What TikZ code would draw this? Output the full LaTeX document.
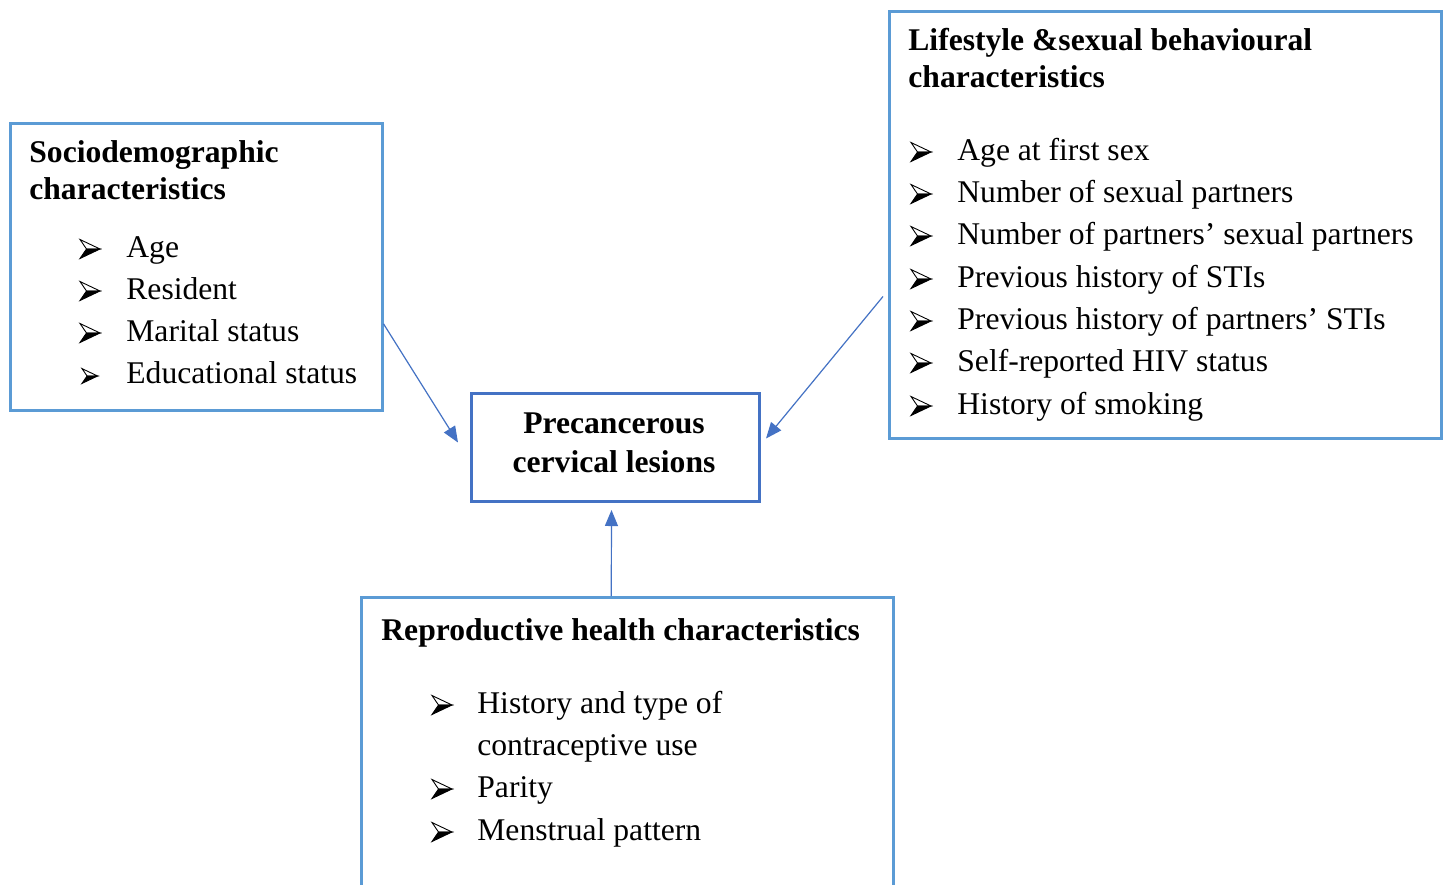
\documentclass[tikz,border=0pt]{standalone}
\usepackage{fontspec}
\setmainfont{Liberation Serif}
\usetikzlibrary{arrows.meta,calc}
\definecolor{boxblue}{HTML}{5B9BD5}
\definecolor{darkblue}{HTML}{4472C4}
\begin{document}
\begin{tikzpicture}[x=0.5pt,y=-0.5pt,
  box/.style={draw=boxblue,line width=1.25pt,anchor=north west,inner sep=0pt},
  mainbox/.style={draw=darkblue,line width=1.5pt,anchor=north west,inner sep=0pt},
  txt/.style={anchor=base west,inner sep=0pt,font=\fontsize{15.8pt}{21pt}\selectfont},
  ttl/.style={txt,font=\fontsize{15.8pt}{21pt}\selectfont\bfseries},
  conn/.style={draw=darkblue,line width=0.6pt,-{Triangle[length=8pt,width=6.5pt]}},
  arrowbullet/.pic={
    \filldraw[fill=white,draw=black,line width=0.45pt,line join=miter] (0,-9.5) -- (20,0) -- (6.5,0) -- cycle;
    \filldraw[fill=black,draw=black,line width=0.45pt,line join=miter] (6.5,0) -- (20,0) -- (0,9.5) -- cycle;
  }]
\clip (0,0) rectangle (1445,884);
\fill[white] (0,0) rectangle (1445,884);
% boxes
\node[box,minimum width=186pt,minimum height=143.5pt] (socio) at (9,122) {};
\node[box,minimum width=276pt,minimum height=213.5pt] (life) at (888,10) {};
\node[mainbox,minimum width=144pt,minimum height=54pt] (pre) at (470,392) {};
\node[box,minimum width=266pt,minimum height=200pt] (repro) at (360,596) {};
% sociodemographic
\node[ttl] (s0) at (29,162) {Sociodemographic};
\node[ttl] (s00) at (29,199) {characteristics};
\foreach \y/\t [count=\i] in {257/Age,299/Resident,341/Marital status}{
  \pic at (80,\y-8) {arrowbullet};
  \node[txt] (st\i) at (126,\y) {\t};
}
\pic[scale=0.78] at (82,383-7) {arrowbullet};
\node[txt] (st4) at (126,383) {Educational status};
% lifestyle
\node[ttl] (l0) at (908,50) {Lifestyle \&sexual behavioural};
\node[ttl] (l00) at (908,87) {characteristics};
\foreach \y/\t [count=\i] in {160/Age at first sex,202/Number of sexual partners,244/Number of partners’ sexual partners,287/Previous history of STIs,329/Previous history of partners’ STIs,371/Self-reported HIV status,414/History of smoking}{
  \pic at (911,\y-8) {arrowbullet};
  \node[txt] (lt\i) at (957,\y) {\t};
}
% precancerous
\node[ttl,anchor=base] (p1) at (614,433) {Precancerous};
\node[ttl,anchor=base] (p2) at (614,472) {cervical lesions};
% reproductive
\node[ttl] (r0) at (381,640) {Reproductive health characteristics};
\pic at (432,705) {arrowbullet};
\node[txt] (rt1) at (477,713) {History and type of};
\node[txt] (rt1b) at (477,755) {contraceptive use};
\pic at (432,789) {arrowbullet};
\node[txt] (rt2) at (477,797) {Parity};
\pic at (432,832) {arrowbullet};
\node[txt] (rt3) at (477,840) {Menstrual pattern};
% connectors
\draw[conn] ($(socio.north east)!0.697!(socio.south east)$) -- ($(pre.west)+(-12,-5)$);
\draw[conn] ($(life.north west)!0.667!(life.south west)+(-5,0)$) -- ($(pre.east)+(5,-9)$);
\draw[conn] ($(repro.north)+(-16,0)$) -- ($(pre.south)+(-4,7)$);
\end{tikzpicture}
\end{document}
